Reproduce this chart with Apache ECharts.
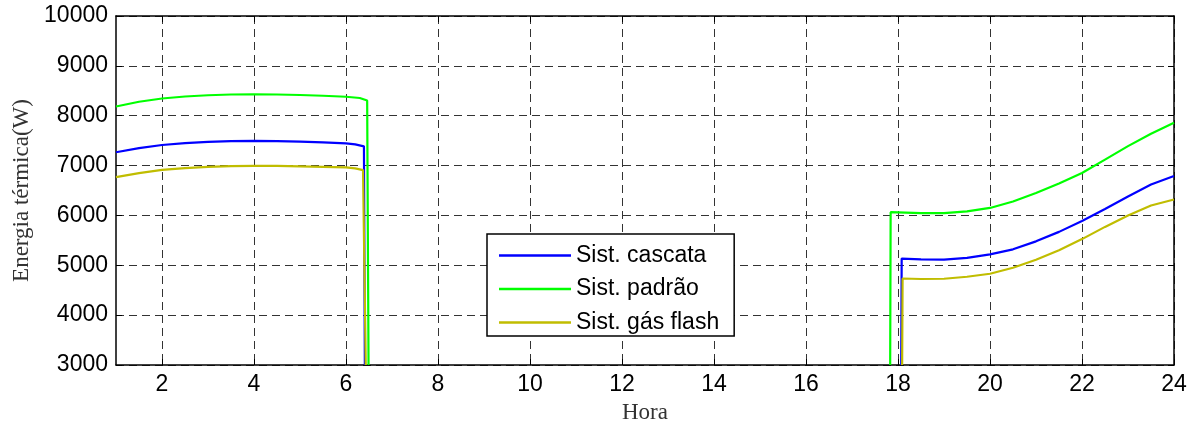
<!DOCTYPE html>
<html>
<head>
<meta charset="utf-8">
<script src="https://cdn.jsdelivr.net/npm/echarts@6/dist/echarts.min.js"></script>
<style>html,body{margin:0;padding:0;background:#fff;}#c{width:1197px;height:429px;}</style>
</head>
<body>
<div id="c"></div>
<script>
const xTicks = [2,4,6,8,10,12,14,16,18,20,22,24];
const seriesNames = ['Sist. cascata','Sist. padrão','Sist. gás flash'];

const cascataLeftHours  = [1,1.5,2,2.5,3,3.5,4,4.5,5,5.5,6,6.2,6.39,6.41];
const cascataLeftValues = [7268,7350,7413,7450,7475,7490,7495,7490,7480,7465,7445,7425,7385,3000];
const cascataRightHours  = [18.07,18.08,18.5,19,19.5,20,20.5,21,21.5,22,22.5,23,23.5,24];
const cascataRightValues = [3000,5134,5120,5115,5150,5220,5320,5480,5670,5890,6130,6380,6620,6790];

const padraoLeftHours  = [1,1.5,2,2.5,3,3.5,4,4.5,5,5.5,6,6.3,6.46,6.49];
const padraoLeftValues = [8185,8280,8345,8385,8410,8425,8430,8425,8415,8400,8380,8355,8305,3000];
const padraoRightHours  = [17.83,17.84,18,18.5,19,19.5,20,20.5,21,21.5,22,22.5,23,23.5,24];
const padraoRightValues = [3000,6065,6060,6045,6045,6080,6150,6280,6450,6640,6850,7120,7390,7640,7860];

const flashLeftHours  = [1,1.5,2,2.5,3,3.5,4,4.5,5,5.5,6,6.2,6.37,6.43];
const flashLeftValues = [6769,6850,6915,6950,6975,6990,6995,6995,6985,6975,6965,6945,6910,3000];
const flashRightHours  = [18.09,18.1,18.5,19,19.5,20,20.5,21,21.5,22,22.5,23,23.5,24];
const flashRightValues = [3000,4735,4725,4730,4770,4830,4950,5110,5300,5525,5770,6000,6200,6320];

const colors = ['#0000ff','#00ff00','#c0bd00'];
const pair = (h, v) => h.map((x, i) => [x, v[i]]);

function mk(name, color, data) {
  return { name, type: 'line', data, color, showSymbol: false, symbol: 'none',
    lineStyle: { color, width: 2.2 }, animation: false, clip: true, z: 3 };
}

const chart = echarts.init(document.getElementById('c'), null, { renderer: 'canvas' });
const sans = 'Liberation Sans';
const serif = 'Liberation Serif';
const dash = { color: '#333', width: 1, type: [8, 5] };
chart.setOption({
  animation: false,
  backgroundColor: '#fff',
  grid: { left: 116, right: 23, top: 16, bottom: 62, show: false },
  legend: {
    data: seriesNames, orient: 'vertical', left: 487, top: 234,
    selectedMode: false, icon: 'rect', itemWidth: 72, itemHeight: 2.5, itemGap: 10.5,
    padding: [10, 15, 2, 12], borderColor: '#000', borderWidth: 1.5, backgroundColor: '#fff',
    textStyle: { fontFamily: sans, fontSize: 23, color: '#000' }
  },
  xAxis: [{
    type: 'value', min: 1, max: 24, position: 'bottom',
    name: 'Hora', nameLocation: 'middle', nameGap: 36,
    nameTextStyle: { fontFamily: serif, fontSize: 23, color: '#333' },
    axisLine: { show: true, lineStyle: { color: '#000', width: 1.5 } },
    axisTick: { show: true, inside: true, length: 6, customValues: xTicks, lineStyle: { color: '#000' } },
    axisLabel: { customValues: xTicks, fontFamily: sans, fontSize: 23, color: '#000', margin: 8 },
    splitLine: { show: true, lineStyle: dash }
  }, {
    type: 'value', min: 1, max: 24, position: 'top',
    axisLine: { show: true, lineStyle: { color: '#000', width: 1.5 } },
    axisTick: { show: true, inside: true, length: 6, customValues: xTicks, lineStyle: { color: '#000' } },
    axisLabel: { show: false }, splitLine: { show: false }
  }],
  yAxis: [{
    type: 'value', min: 3000, max: 10000, interval: 1000, position: 'left',
    name: 'Energia térmica(W)', nameLocation: 'middle', nameGap: 81,
    nameTextStyle: { fontFamily: serif, fontSize: 23, color: '#333' },
    axisLine: { show: true, lineStyle: { color: '#000', width: 1.5 } },
    axisTick: { show: true, inside: true, length: 6, lineStyle: { color: '#000' } },
    axisLabel: { fontFamily: sans, fontSize: 23, color: '#000', margin: 8, formatter: v => String(v) },
    splitLine: { show: true, lineStyle: dash }
  }, {
    type: 'value', min: 3000, max: 10000, interval: 1000, position: 'right',
    axisLine: { show: true, lineStyle: { color: '#000', width: 1.5 } },
    axisTick: { show: true, inside: true, length: 6, lineStyle: { color: '#000' } },
    axisLabel: { show: false }, splitLine: { show: false }
  }],
  series: [
    mk(seriesNames[0], colors[0], pair(cascataLeftHours, cascataLeftValues)),
    mk(seriesNames[0], colors[0], pair(cascataRightHours, cascataRightValues)),
    mk(seriesNames[1], colors[1], pair(padraoLeftHours, padraoLeftValues)),
    mk(seriesNames[1], colors[1], pair(padraoRightHours, padraoRightValues)),
    mk(seriesNames[2], colors[2], pair(flashLeftHours, flashLeftValues)),
    mk(seriesNames[2], colors[2], pair(flashRightHours, flashRightValues))
  ]
});
</script>
</body>
</html>
